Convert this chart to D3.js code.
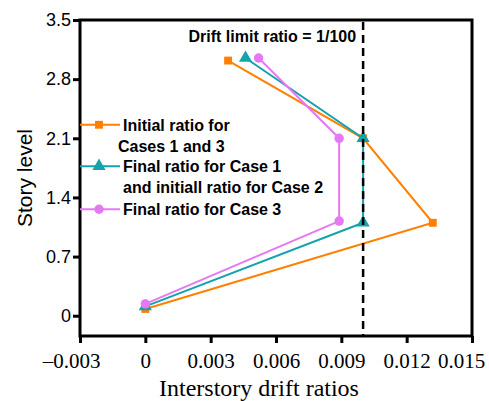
<!DOCTYPE html>
<html lang="en">
<head>
    <meta charset="UTF-8">
    <title>Interstory drift ratios</title>
    <script src="https://d3js.org/d3.v7.min.js"></script>
    <style>
        body {
            margin: 0;
            padding: 0;
            background-color: #fff;
        }
        .sans { font-family: Arial, "Liberation Sans", sans-serif; }
        .serif { font-family: "Times New Roman", "Liberation Serif", serif; }
    </style>
</head>
<body>
    <div id="chart-container"></div>
    <script>
        // story levels (y) and drift ratios (x)
        const initialDrift = [0.0038, 0.0100, 0.0132, 0.0000];
        const initialLevel = [3.02, 2.10, 1.10, 0.08];
        const finalCase1Drift = [0.0046, 0.0100, 0.0100, 0.0000];
        const finalCase1Level = [3.05, 2.10, 1.10, 0.11];
        const finalCase3Drift = [0.0052, 0.0089, 0.0089, 0.0000];
        const finalCase3Level = [3.05, 2.10, 1.12, 0.14];
        const driftLimit = 0.010;

        const xTicks = [-0.003, 0, 0.003, 0.006, 0.009, 0.012, 0.015];
        const xTickLabels = ["\u20130.003", "0", "0.003", "0.006", "0.009", "0.012", "0.015"];
        const yTicks = [0, 0.7, 1.4, 2.1, 2.8, 3.5];
        const yTickLabels = ["0", "0.7", "1.4", "2.1", "2.8", "3.5"];

        const series = [
            { name: ["Initial ratio for", "Cases 1 and 3"], x: initialDrift, y: initialLevel, color: "#ff8000", marker: "square" },
            { name: ["Final ratio for Case 1", "and initiall ratio for Case 2"], x: finalCase1Drift, y: finalCase1Level, color: "#14a3aa", marker: "triangle" },
            { name: ["Final ratio for Case 3"], x: finalCase3Drift, y: finalCase3Level, color: "#e678f4", marker: "circle" }
        ];

        const margin = { top: 20, right: 17, bottom: 65, left: 80 };
        const width = 489 - margin.left - margin.right;
        const height = 401 - margin.top - margin.bottom;

        const svg = d3.select("#chart-container")
            .append("svg")
            .attr("width", 489)
            .attr("height", 401)
            .append("g")
            .attr("transform", `translate(${margin.left},${margin.top})`);

        const x = d3.scaleLinear().domain([-0.003, 0.015]).range([0, width]);
        const y = d3.scaleLinear().domain([-0.24, 3.5]).range([height, 0]);

        const symbolFor = {
            square: d3.symbol().type(d3.symbolSquare).size(62),
            triangle: d3.symbol().type(d3.symbolTriangle).size(75),
            circle: d3.symbol().type(d3.symbolCircle).size(70)
        };

        // axes
        const xAxis = svg.append("g")
            .attr("transform", `translate(0,${height})`)
            .call(d3.axisBottom(x).tickValues(xTicks).tickSize(7).tickSizeOuter(0)
                .tickFormat((d, i) => xTickLabels[i]));
        xAxis.select(".domain").remove();
        xAxis.selectAll(".tick line").attr("stroke", "#000").attr("stroke-width", 3);
        xAxis.selectAll(".tick text")
            .attr("class", "serif")
            .attr("font-size", 21)
            .attr("fill", "#000")
            .attr("dy", "1.05em")
            .attr("dx", (d, i) => i === 0 ? -9 : (i === xTicks.length - 1 ? -11 : 0));

        const yAxis = svg.append("g")
            .call(d3.axisLeft(y).tickValues(yTicks).tickSize(7).tickSizeOuter(0)
                .tickFormat((d, i) => yTickLabels[i]));
        yAxis.select(".domain").remove();
        yAxis.selectAll(".tick line").attr("stroke", "#000").attr("stroke-width", 3);
        yAxis.selectAll(".tick text")
            .attr("class", "sans")
            .attr("font-size", 18)
            .attr("fill", "#000")
            .attr("x", -9);

        svg.append("rect")
            .attr("width", width)
            .attr("height", height)
            .attr("fill", "none")
            .attr("stroke", "#000")
            .attr("stroke-width", 3);

        // series
        const line = d3.line()
            .x(d => x(d[0]))
            .y(d => y(d[1]));

        series.forEach(s => {
            const pts = s.x.map((v, i) => [v, s.y[i]]);
            svg.append("path")
                .datum(pts)
                .attr("fill", "none")
                .attr("stroke", s.color)
                .attr("stroke-width", 2)
                .attr("d", line);
            svg.selectAll(null)
                .data(pts)
                .enter()
                .append("path")
                .attr("d", symbolFor[s.marker])
                .attr("transform", d => `translate(${x(d[0])},${y(d[1])})`)
                .attr("fill", s.color);
        });

        // drift limit
        svg.append("line")
            .attr("x1", x(driftLimit))
            .attr("x2", x(driftLimit))
            .attr("y1", 2)
            .attr("y2", height)
            .attr("stroke", "#000")
            .attr("stroke-width", 2.5)
            .attr("stroke-dasharray", "8,5");

        svg.append("text")
            .attr("class", "sans")
            .attr("x", x(driftLimit) - 7)
            .attr("y", 22)
            .attr("text-anchor", "end")
            .attr("font-size", 16)
            .attr("font-weight", "bold")
            .text("Drift limit ratio = 1/100");

        // legend
        const legendY = [y(2.26), y(1.77), y(1.26)];
        const legend = svg.append("g");
        series.forEach((s, i) => {
            const g = legend.append("g").attr("transform", `translate(0,${legendY[i]})`);
            g.append("line")
                .attr("x1", 0).attr("x2", 40)
                .attr("stroke", s.color)
                .attr("stroke-width", 2);
            g.append("path")
                .attr("d", symbolFor[s.marker])
                .attr("transform", "translate(19,0)")
                .attr("fill", s.color);
            s.name.forEach((t, j) => {
                g.append("text")
                    .attr("class", "sans")
                    .attr("x", j === 1 && i === 0 ? 38 : 43)
                    .attr("y", 6 + j * 21)
                    .attr("font-size", 16)
                    .attr("font-weight", "bold")
                    .text(t);
            });
        });

        // axis titles
        svg.append("text")
            .attr("class", "serif")
            .attr("x", 179)
            .attr("y", height + 60)
            .attr("text-anchor", "middle")
            .attr("font-size", 24)
            .text("Interstory drift ratios");

        svg.append("text")
            .attr("class", "sans")
            .attr("transform", `translate(${-48},${158}) rotate(-90)`)
            .attr("text-anchor", "middle")
            .attr("font-size", 21)
            .text("Story level");
    </script>
</body>
</html>
